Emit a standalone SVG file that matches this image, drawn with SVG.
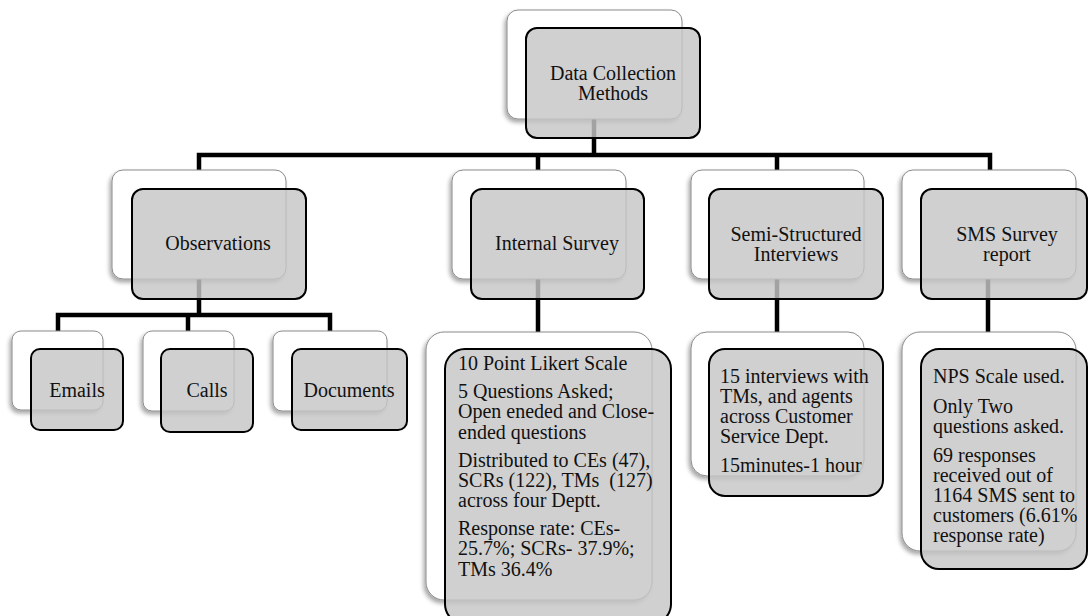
<svg xmlns="http://www.w3.org/2000/svg" width="1088" height="616" viewBox="0 0 1088 616">
<defs>
<filter id="sh" x="-20%" y="-20%" width="140%" height="140%">
<feDropShadow dx="-2" dy="3" stdDeviation="2" flood-color="#000" flood-opacity="0.35"/>
</filter>
<style>
.back{fill:#ffffff;stroke:#8a8a8a;stroke-width:1;filter:url(#sh)}
.front{fill:#c6c6c6;fill-opacity:0.82;stroke:#000;stroke-width:2}
.conn{fill:none;stroke:#000;stroke-width:4.5;stroke-linejoin:miter}
.lbl{font-family:"Liberation Serif","Times New Roman",serif;font-size:20px;fill:#111;text-anchor:middle}
.det{font-family:"Liberation Serif","Times New Roman",serif;font-size:20px;fill:#111}
</style>
</defs>
<rect width="1088" height="616" fill="#fff"/>
<g id="connectors">
<path class="conn" d="M594 119 V155 M199 170 V155 H990 V170 M538 155 V170 M777 155 V170"/>
<path class="conn" d="M199 279 V315 M58 331 V315 H330 V331 M188 315 V331"/>
<path class="conn" d="M538 279 V332"/>
<path class="conn" d="M777 279 V332"/>
<path class="conn" d="M988 279 V332"/>
</g>
<g id="n-root">
<rect class="back" x="507" y="10" width="175" height="109" rx="11"/>
<rect class="front" x="526" y="28" width="174" height="110" rx="11"/>
<text class="lbl" x="613" y="80">Data Collection</text>
<text class="lbl" x="613" y="100">Methods</text>
</g>
<g id="n-observations">
<rect class="back" x="112" y="170" width="174" height="109" rx="11"/>
<rect class="front" x="132" y="189" width="174" height="110" rx="11"/>
<text class="lbl" x="218" y="250">Observations</text>
</g>
<g id="n-internal">
<rect class="back" x="452" y="170" width="174" height="109" rx="11"/>
<rect class="front" x="471" y="189" width="173" height="110" rx="11"/>
<text class="lbl" x="557" y="250">Internal Survey</text>
</g>
<g id="n-semi">
<rect class="back" x="691" y="170" width="173" height="109" rx="11"/>
<rect class="front" x="709" y="189" width="174" height="110" rx="11"/>
<text class="lbl" x="796" y="241">Semi-Structured</text>
<text class="lbl" x="796" y="261">Interviews</text>
</g>
<g id="n-sms">
<rect class="back" x="902" y="170" width="174" height="109" rx="11"/>
<rect class="front" x="921" y="189" width="166" height="110" rx="11"/>
<text class="lbl" x="1007" y="241">SMS Survey</text>
<text class="lbl" x="1007" y="261">report</text>
</g>
<g id="n-emails">
<rect class="back" x="12" y="331" width="91" height="79" rx="9"/>
<rect class="front" x="31" y="349" width="92" height="81" rx="9"/>
<text class="lbl" x="77" y="397">Emails</text>
</g>
<g id="n-calls">
<rect class="back" x="143" y="331" width="91" height="80" rx="9"/>
<rect class="front" x="161" y="349" width="92" height="83" rx="9"/>
<text class="lbl" x="207" y="397">Calls</text>
</g>
<g id="n-documents">
<rect class="back" x="273" y="331" width="114" height="80" rx="9"/>
<rect class="front" x="292" y="349" width="115" height="81" rx="9"/>
<text class="lbl" x="349" y="397">Documents</text>
</g>
<g id="n-internal-detail">
<rect class="back" x="426" y="332" width="226" height="268" rx="18"/>
<rect class="front" x="445" y="349" width="226" height="275" rx="20"/>
<text class="det" x="458" y="370">10 Point Likert Scale</text>
<text class="det" x="458" y="398">5 Questions Asked;</text>
<text class="det" x="458" y="418">Open eneded and Close-</text>
<text class="det" x="458" y="439">ended questions</text>
<text class="det" x="458" y="467">Distributed to CEs (47),</text>
<text class="det" x="458" y="487" xml:space="preserve">SCRs (122), TMs  (127)</text>
<text class="det" x="458" y="507">across four Deptt.</text>
<text class="det" x="458" y="535">Response rate: CEs-</text>
<text class="det" x="458" y="555">25.7%; SCRs- 37.9%;</text>
<text class="det" x="458" y="576">TMs 36.4%</text>
</g>
<g id="n-semi-detail">
<rect class="back" x="691" y="332" width="173" height="144" rx="16"/>
<rect class="front" x="709" y="349" width="174" height="147" rx="16"/>
<text class="det" x="720" y="383">15 interviews with</text>
<text class="det" x="720" y="403">TMs, and agents</text>
<text class="det" x="720" y="423">across Customer</text>
<text class="det" x="720" y="443">Service Dept.</text>
<text class="det" x="720" y="472">15minutes-1 hour</text>
</g>
<g id="n-sms-detail">
<rect class="back" x="902" y="332" width="174" height="219" rx="18"/>
<rect class="front" x="921" y="349" width="166" height="220" rx="18"/>
<text class="det" x="933" y="383">NPS Scale used.</text>
<text class="det" x="933" y="413">Only Two</text>
<text class="det" x="933" y="433">questions asked.</text>
<text class="det" x="933" y="462">69 responses</text>
<text class="det" x="933" y="482">received out of</text>
<text class="det" x="933" y="502">1164 SMS sent to</text>
<text class="det" x="933" y="522">customers (6.61%</text>
<text class="det" x="933" y="542">response rate)</text>
</g>
</svg>
